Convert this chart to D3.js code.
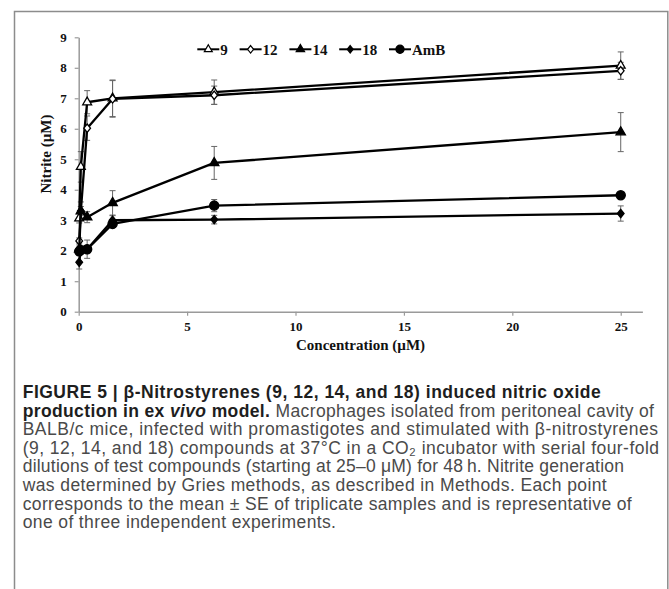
<!DOCTYPE html>
<html>
<head>
<meta charset="utf-8">
<script src="https://cdn.jsdelivr.net/npm/d3@7"></script>
<style>
  body { margin: 0; background: #fff; }
  svg { display: block; }
</style>
</head>
<body>
<svg id="fig" width="669" height="589"></svg>
<script>
// Concentrations (µM): four-fold serial dilutions
var concentrations = [0.024, 0.098, 0.39, 1.5625, 6.25, 25];

var seriesNames = ['9', '12', '14', '18', 'AmB'];

// Nitrite (µM), mean per compound
var nitrite9   = [3.06, 4.75, 6.87, 7.00, 7.20, 8.07];
var nitrite12  = [2.32, 3.30, 6.02, 6.98, 7.10, 7.90];
var nitrite14  = [2.05, 3.30, 3.10, 3.57, 4.88, 5.89];
var nitrite18  = [1.62, 2.05, 2.05, 3.00, 3.02, 3.22];
var nitriteAmB = [1.98, 2.02, 2.05, 2.88, 3.48, 3.82];

// Standard errors
var se9   = [0.15, 0.50, 0.38, 0.60, 0.40, 0.45];
var se12  = [0.10, 0.30, 0.40, 0.60, 0.30, 0.28];
var se14  = [0.10, 0.15, 0.18, 0.40, 0.54, 0.64];
var se18  = [0.22, 0.10, 0.30, 0.15, 0.14, 0.25];
var seAmB = [0.10, 0.10, 0.10, 0.12, 0.20, 0.05];

var xTicks = [0, 5, 10, 15, 20, 25];
var yTicks = [0, 1, 2, 3, 4, 5, 6, 7, 8, 9];

var xTitle = 'Concentration (\u00b5M)';
var yTitle = 'Nitrite (\u00b5M)';

// Caption, one entry per line: [text, style]
var captionLines = [
  [['FIGURE 5 | \u03b2-Nitrostyrenes (9, 12, 14, and 18) induced nitric oxide', 'b']],
  [['production in ex ', 'b'], ['vivo', 'bi'], [' model.', 'b'], [' Macrophages isolated from peritoneal cavity of', 'r']],
  [['BALB/c mice, infected with promastigotes and stimulated with \u03b2-nitrostyrenes', 'r']],
  [['(9, 12, 14, and 18) compounds at 37\u00b0C in a CO\u2082 incubator with serial four-fold', 'r']],
  [['dilutions of test compounds (starting at 25\u20130 \u03bcM) for 48\u2009h. Nitrite generation', 'r']],
  [['was determined by Gries methods, as described in Methods. Each point', 'r']],
  [['corresponds to the mean \u00b1 SE of triplicate samples and is representative of', 'r']],
  [['one of three independent experiments.', 'r']]
];

var series = [
  {name: seriesNames[0], values: nitrite9,   se: se9},
  {name: seriesNames[1], values: nitrite12,  se: se12},
  {name: seriesNames[2], values: nitrite14,  se: se14},
  {name: seriesNames[3], values: nitrite18,  se: se18},
  {name: seriesNames[4], values: nitriteAmB, se: seAmB}
];

// Rhombus marker (less elongated than d3.symbolDiamond)
var symbolRhomb = {
  draw: function(context, size) {
    var h = Math.sqrt(size / 1.6);
    var w = h * 0.8;
    context.moveTo(0, -h);
    context.lineTo(w, 0);
    context.lineTo(0, h);
    context.lineTo(-w, 0);
    context.closePath();
  }
};
var markerType = [d3.symbolTriangle, symbolRhomb, d3.symbolTriangle, symbolRhomb, d3.symbolCircle];
var markerFill = ['#fff', '#fff', '#000', '#000', '#000'];
var markerSize = [34, 28, 38, 28, 66];

var serif = '"Liberation Serif", "Times New Roman", serif';
var sans = '"Liberation Sans", Arial, Helvetica, sans-serif';

var svg = d3.select('#fig');

// Frame around figure + caption
svg.append('rect')
  .attr('x', 14.5).attr('y', 11.5)
  .attr('width', 653.3).attr('height', 620)
  .attr('fill', 'none')
  .attr('stroke', '#8c8c8c')
  .attr('stroke-width', 1.5);

var x = d3.scaleLinear().domain([0, 26]).range([78.7, 642.4]);
var y = d3.scaleLinear().domain([0, 9]).range([311.7, 37.3]);

// Axes
var gx = svg.append('g')
  .attr('transform', 'translate(0,' + y(0) + ')')
  .call(d3.axisBottom(x).tickValues(xTicks).tickSize(4).tickSizeOuter(0).tickPadding(6));

var gy = svg.append('g')
  .attr('transform', 'translate(' + x(0) + ',0)')
  .call(d3.axisLeft(y).tickValues(yTicks).tickSize(4).tickSizeOuter(0).tickPadding(8));

[gx, gy].forEach(function(g) {
  g.select('.domain').attr('stroke', '#9a9a9a').attr('stroke-width', 1.5);
  g.selectAll('.tick line').attr('stroke', '#9a9a9a').attr('stroke-width', 1.2);
  g.selectAll('.tick text')
    .attr('fill', '#111')
    .style('font-family', serif)
    .style('font-weight', 'bold')
    .style('font-size', '13px');
});

svg.append('text')
  .attr('x', (x.range()[0] + x.range()[1]) / 2)
  .attr('y', 350)
  .attr('text-anchor', 'middle')
  .style('font-family', serif).style('font-weight', 'bold').style('font-size', '15px')
  .attr('fill', '#111')
  .text(xTitle);

svg.append('text')
  .attr('transform', 'translate(51,154) rotate(-90)')
  .attr('text-anchor', 'middle')
  .style('font-family', serif).style('font-weight', 'bold').style('font-size', '15px')
  .attr('fill', '#111')
  .text(yTitle);

// Error bars (behind lines)
var errG = svg.append('g');
series.forEach(function(s) {
  s.values.forEach(function(v, i) {
    var cx = x(concentrations[i]);
    var top = y(v + s.se[i]), bot = y(v - s.se[i]);
    errG.append('line').attr('x1', cx).attr('x2', cx).attr('y1', top).attr('y2', bot);
    errG.append('line').attr('x1', cx - 3).attr('x2', cx + 3).attr('y1', top).attr('y2', top);
    errG.append('line').attr('x1', cx - 3).attr('x2', cx + 3).attr('y1', bot).attr('y2', bot);
  });
});
errG.selectAll('line').attr('stroke', '#666').attr('stroke-width', 1);

// Lines and markers
var line = d3.line()
  .x(function(d, i) { return x(concentrations[i]); })
  .y(function(d) { return y(d); });

series.forEach(function(s, k) {
  svg.append('path')
    .datum(s.values)
    .attr('d', line)
    .attr('fill', 'none')
    .attr('stroke', '#000')
    .attr('stroke-width', 2.3)
    .attr('stroke-linejoin', 'round');

  svg.append('g').selectAll('path')
    .data(s.values)
    .join('path')
    .attr('transform', function(d, i) { return 'translate(' + x(concentrations[i]) + ',' + y(d) + ')'; })
    .attr('d', d3.symbol().type(markerType[k]).size(markerSize[k]))
    .attr('fill', markerFill[k])
    .attr('stroke', '#000')
    .attr('stroke-width', 1.3);
});

// Legend
var legend = svg.append('g');
var lx = 197.3, ly = 49.3;
series.forEach(function(s, k) {
  legend.append('line')
    .attr('x1', lx).attr('x2', lx + 22)
    .attr('y1', ly).attr('y2', ly)
    .attr('stroke', '#000').attr('stroke-width', 2);
  legend.append('path')
    .attr('transform', 'translate(' + (lx + 11) + ',' + ly + ')')
    .attr('d', d3.symbol().type(markerType[k]).size(markerSize[k] * 0.8))
    .attr('fill', markerFill[k])
    .attr('stroke', '#000')
    .attr('stroke-width', 1.2);
  var t = legend.append('text')
    .attr('x', lx + 23).attr('y', ly + 5.2)
    .style('font-family', serif).style('font-weight', 'bold').style('font-size', '15px')
    .attr('fill', '#111')
    .text(s.name);
  lx = lx + 23 + t.node().getComputedTextLength() + 11.8;
});

// Caption, spaced to match the reference line widths
var captionWidths = [578, 631.3, 635.3, 636.3, 601.3, 584, 609, 313.3];
var cap = svg.append('g');
captionLines.forEach(function(segs, i) {
  var t = cap.append('text')
    .attr('x', 22.7)
    .attr('y', 398 + i * 18.6)
    .style('font-family', sans)
    .style('font-size', '17.5px')
    .attr('fill', '#4a4a4a');
  segs.forEach(function(s) {
    var ts = t.append('tspan').text(s[0]);
    if (s[1] == 'b' || s[1] == 'bi') ts.style('font-weight', 'bold').attr('fill', '#1e1e1e');
    if (s[1] == 'bi') ts.style('font-style', 'italic');
  });
  var natural = t.node().getComputedTextLength();
  var n = t.text().length;
  t.attr('letter-spacing', (captionWidths[i] - natural) / (n - 1));
});
</script>
</body>
</html>
